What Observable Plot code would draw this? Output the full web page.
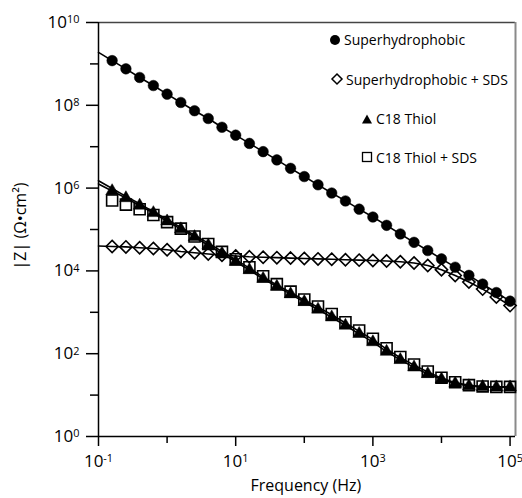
<!DOCTYPE html>
<html><head><meta charset="utf-8">
<script src="https://cdn.jsdelivr.net/npm/d3@7"></script>
<script src="https://cdn.jsdelivr.net/npm/@observablehq/plot@0.6"></script>
<style>
body{margin:0;background:#fff;}
#wrap{position:relative;width:522px;height:498px;font-family:"Open Sans",sans-serif;color:#000;}
.lg{position:absolute;display:flex;align-items:center;font-size:14px;white-space:nowrap;height:20px;}
.lg svg{margin-right:2px;}
.ylab{position:absolute;font-size:16px;white-space:nowrap;transform-origin:center;}
.xlab{position:absolute;font-size:16px;white-space:nowrap;}
</style></head><body><div id="wrap"></div>
<script>
// Frequency (Hz) of measured points
const freq = [0.158, 0.251, 0.398, 0.631, 1, 1.585, 2.512, 3.981, 6.31, 10,
  15.85, 25.12, 39.81, 63.1, 100, 158.5, 251.2, 398.1, 631, 1000,
  1585, 2512, 3981, 6310, 10000, 15850, 25120, 39810, 63100, 100000];
// |Z| (Ohm cm2) measured
const superhydrophobic = [1.2e9, 7.6e8, 4.7e8, 3.0e8, 1.86e8, 1.17e8, 7.4e7, 4.8e7, 2.95e7, 1.9e7,
  1.2e7, 7.6e6, 4.8e6, 3.0e6, 1.9e6, 1.2e6, 7.6e5, 4.9e5, 3.1e5, 2.0e5,
  1.26e5, 7.8e4, 4.9e4, 3.1e4, 1.95e4, 1.23e4, 7.8e3, 4.8e3, 3.0e3, 1.86e3];
const superhydrophobicSDS = [38900, 38000, 36300, 34700, 32400, 29500, 27500, 25700, 24000, 22900,
  21900, 21400, 20900, 20400, 20000, 19500, 19100, 18600, 18200, 17800,
  17400, 16600, 15500, 13500, 10700, 7760, 5370, 3630, 2340, 1450];
const c18Thiol = [851000, 575000, 380000, 251000, 158000, 102000, 66100, 41700, 26300, 16600,
  10500, 6460, 4170, 2750, 1780, 1170, 759, 479, 302, 191,
  112, 70.8, 46.8, 32.4, 24.0, 19.1, 16.6, 15.8, 15.5, 15.5];
const c18ThiolSDS = [501000, 398000, 309000, 224000, 151000, 105000, 67600, 44700, 28800, 19100,
  12300, 7410, 4790, 3160, 2040, 1380, 912, 575, 363, 229,
  135, 83.2, 55.0, 37.2, 26.3, 20.4, 17.4, 16.2, 15.8, 15.8];
// fitted curves
const fitFreq = [0.1, 0.158, 0.251, 0.398, 0.631, 1, 1.585, 2.512, 3.981, 6.31, 10,
  15.85, 25.12, 39.81, 63.1, 100, 158.5, 251.2, 398.1, 631, 1000,
  1585, 2512, 3981, 6310, 10000, 15850, 25120, 39810, 63100, 100000];
const fitSuperhydrophobic = [1.9e9, 1.2e9, 7.6e8, 4.7e8, 3.0e8, 1.86e8, 1.17e8, 7.4e7, 4.8e7, 2.95e7, 1.9e7,
  1.2e7, 7.6e6, 4.8e6, 3.0e6, 1.9e6, 1.2e6, 7.6e5, 4.9e5, 3.1e5, 2.0e5,
  1.26e5, 7.8e4, 4.9e4, 3.1e4, 1.95e4, 1.23e4, 7.8e3, 4.8e3, 3.0e3, 1.86e3];
const fitSuperhydrophobicSDS = [39800, 38900, 38000, 36300, 34700, 32400, 29500, 27500, 25700, 24000, 22900,
  21900, 21400, 20900, 20400, 20000, 19500, 19100, 18600, 18200, 17800,
  17400, 16600, 15500, 13500, 10700, 7760, 5370, 3630, 2340, 1450];
const fitC18Thiol = [1.26e6, 851000, 575000, 380000, 251000, 158000, 102000, 66100, 41700, 26300, 16600,
  10500, 6460, 4170, 2750, 1780, 1170, 759, 479, 302, 191,
  112, 70.8, 46.8, 32.4, 24.0, 19.1, 16.6, 15.8, 15.5, 15.5];
const fitC18ThiolSDS = [1.51e6, 977000, 631000, 417000, 269000, 174000, 112000, 72400, 46800, 29500, 18600,
  11700, 7080, 4570, 3020, 1950, 1320, 871, 550, 347, 219,
  129, 80, 53, 36, 25.7, 20, 17.2, 16.1, 15.8, 15.8];
const seriesNames = ["Superhydrophobic", "Superhydrophobic + SDS", "C18 Thiol", "C18 Thiol + SDS"];
const xMajor = [0.1, 10, 1000, 100000];
const xMinor = [1, 100, 10000];
const yMajor = [1, 1e2, 1e4, 1e6, 1e8, 1e10];
const yMinor = [10, 1e3, 1e5, 1e7, 1e9];

const pts = (ys) => freq.map((f, i) => ({f, z: ys[i]}));
const fit = (ys) => fitFreq.map((f, i) => ({f, z: ys[i]}));

const chart = Plot.plot({
  width: 522, height: 498,
  marginTop: 22, marginBottom: 62, marginLeft: 98, marginRight: 7,
  style: {fontFamily: '"Open Sans", sans-serif', fontSize: "17px", background: "#fff", color: "#000"},
  x: {type: "log", domain: [0.1, 120000], label: null},
  y: {type: "log", domain: [1, 1e10], label: null},
  marks: [
    Plot.ruleY([1e10], {stroke: "#444", strokeWidth: 1.5}),
    Plot.ruleX([120000], {stroke: "#8a8a8a", strokeWidth: 2}),
    Plot.axisX(xMinor, {tickSize: 7, tickFormat: () => "", strokeWidth: 1.5, label: null}),
    Plot.axisX(xMajor, {tickSize: 10, tickPadding: 8, tickFormat: (d) => String(Math.round(Math.log10(d))), strokeWidth: 1.5, fontSize: 17, label: null}),
    Plot.axisY(yMinor, {tickSize: 8, tickFormat: () => "", strokeWidth: 1.5, label: null}),
    Plot.axisY(yMajor, {tickSize: 12, tickPadding: 7, tickFormat: (d) => String(Math.round(Math.log10(d))), strokeWidth: 1.5, fontSize: 17, label: null}),
    Plot.ruleX([0.1], {stroke: "#000", strokeWidth: 1.5}),
    Plot.ruleY([1], {stroke: "#000", strokeWidth: 1.5}),
    Plot.line(fit(fitSuperhydrophobic), {x: "f", y: "z", stroke: "#000", strokeWidth: 1.6}),
    Plot.line(fit(fitSuperhydrophobicSDS), {x: "f", y: "z", stroke: "#000", strokeWidth: 1.6}),
    Plot.line(fit(fitC18Thiol), {x: "f", y: "z", stroke: "#000", strokeWidth: 1.6}),
    Plot.line(fit(fitC18ThiolSDS), {x: "f", y: "z", stroke: "#000", strokeWidth: 1.6}),
    Plot.dot(pts(superhydrophobic), {x: "f", y: "z", symbol: "circle", r: 5.3, fill: "#000", stroke: "#000", strokeWidth: 0.5}),
    Plot.dot(pts(superhydrophobicSDS), {x: "f", y: "z", symbol: "diamond2", r: 5.5, fill: "none", stroke: "#000", strokeWidth: 1.6}),
    Plot.dot(pts(c18ThiolSDS), {x: "f", y: "z", symbol: "square2", r: 7, fill: "none", stroke: "#000", strokeWidth: 1.6}),
    Plot.dot(pts(c18Thiol), {x: "f", y: "z", symbol: "triangle", r: 4.7, fill: "#000", stroke: "#000", strokeWidth: 0.5})
  ]
});

// superscript exponents on tick labels
chart.querySelectorAll('g[aria-label$="tick label"] text').forEach((t) => {
  const e = t.textContent.trim();
  if (e === "") return;
  t.textContent = "";
  const ns = "http://www.w3.org/2000/svg";
  const b = document.createElementNS(ns, "tspan"); b.textContent = "10";
  const s = document.createElementNS(ns, "tspan"); s.textContent = e;
  s.setAttribute("dy", "-0.42em"); s.setAttribute("font-size", "0.64em");
  t.appendChild(b); t.appendChild(s);
});

const wrap = document.getElementById("wrap");
wrap.appendChild(chart);

// legend
const sym = {
  "Superhydrophobic": '<circle cx="7" cy="7" r="5" fill="#000"/>',
  "Superhydrophobic + SDS": '<path d="M7 2 L12 7 L7 12 L2 7 Z" fill="none" stroke="#000" stroke-width="1.5"/>',
  "C18 Thiol": '<path d="M7 2.5 L12 11.5 L2 11.5 Z" fill="#000"/>',
  "C18 Thiol + SDS": '<rect x="2.5" y="2.5" width="9" height="9" fill="none" stroke="#000" stroke-width="1.3"/>'
};
const lgPos = [[328, 29.5], [330, 69], [360, 108.5], [360, 147]];
seriesNames.forEach((n, i) => {
  const d = document.createElement("div");
  d.className = "lg";
  d.style.left = lgPos[i][0] + "px"; d.style.top = lgPos[i][1] + "px";
  d.innerHTML = '<svg width="14" height="14">' + sym[n] + '</svg><span>' + n + '</span>';
  wrap.appendChild(d);
});
// axis labels
const yl = document.createElement("div");
yl.className = "ylab"; yl.textContent = "|Z| (Ω•cm²)";
wrap.appendChild(yl);
const w = yl.offsetWidth, h = yl.offsetHeight;
yl.style.left = (20 - w / 2) + "px"; yl.style.top = (226 - h / 2) + "px";
yl.style.transform = "rotate(-90deg)";
const xl = document.createElement("div");
xl.className = "xlab"; xl.textContent = "Frequency (Hz)";
wrap.appendChild(xl);
xl.style.left = (306 - xl.offsetWidth / 2) + "px"; xl.style.top = (485 - xl.offsetHeight / 2) + "px";
</script></body></html>
